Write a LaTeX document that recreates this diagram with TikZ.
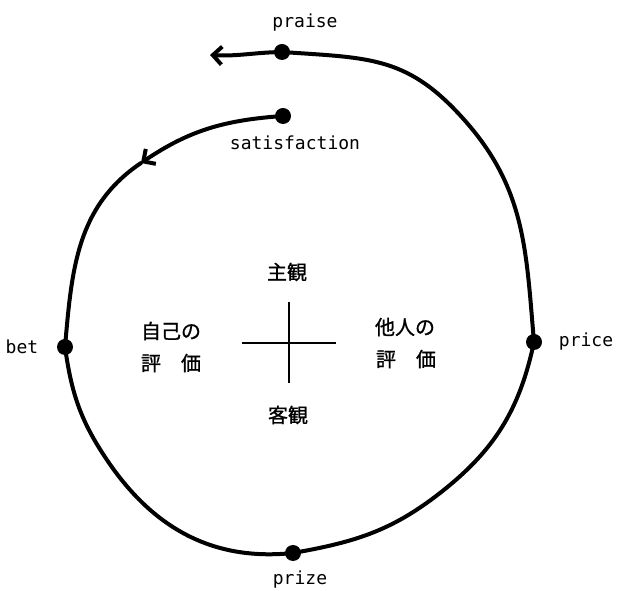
\documentclass[tikz,border=0pt]{standalone}
\usepackage{fontspec}
\setmonofont{DejaVu Sans Mono}
\newfontfamily\cjk[FakeBold=1]{Noto Sans CJK JP}
\usetikzlibrary{arrows.meta}
\begin{document}
\begin{tikzpicture}[x=1pt,y=1pt,
  curve/.style={line width=4pt, line cap=round},
  dotnode/.style={circle, fill=black, inner sep=0pt, minimum size=16pt},
  lab/.style={font=\ttfamily\fontsize{18}{20}\selectfont, inner sep=0pt, anchor=base},
  jp/.style={font=\cjk\fontsize{20}{22}\selectfont, inner sep=0pt},
  barb/.style={-{Straight Barb[length=9pt,width=18pt]}},
  crossline/.style={line width=1.4pt}
]
\useasboundingbox (0,0) rectangle (618,591);
\coordinate (S) at (283,475);
\coordinate (A) at (141,428);
\coordinate (B) at (65,244);
\coordinate (M) at (107,131);
\coordinate (Z) at (293,38);
\coordinate (N) at (440,98);
\coordinate (P) at (534,249);
\coordinate (Q) at (467,468);
\coordinate (R) at (282,539);
\coordinate (E) at (210,536);

\draw[curve, barb] (S) to[out=184,in=34] (A);
\draw[curve] (A) to[out=214,in=85] (B)
  to[out=-82,in=124] (M)
  to[out=-56,in=186] (Z)
  to[out=10,in=218] (N)
  to[out=38,in=258] (P)
  to[out=95,in=-49] (Q)
  to[out=131,in=-4,looseness=1.15] (R);
\draw[curve, barb] (R) to[out=181,in=-3] (E);

\node[dotnode] (dS) at (S) {};
\node[dotnode] (dB) at (B) {};
\node[dotnode] (dZ) at (Z) {};
\node[dotnode] (dP) at (P) {};
\node[dotnode] (dR) at (R) {};

\node[lab] (lR) at (305,563) {praise};
\node[lab] (lS) at (295,441) {satisfaction};
\node[lab] (lB) at (22,237) {bet};
\node[lab] (lP) at (586,244) {price};
\node[lab] (lZ) at (300,6) {prize};

\coordinate (h1) at (242,248);
\coordinate (h2) at (336,248);
\coordinate (v1) at (289,289);
\coordinate (v2) at (289,208);
\draw[crossline] (h1) -- (h2);
\draw[crossline] (v1) -- (v2);

\node[jp] (sub) at (287,319) {主観};
\node[jp] (obj) at (288,176) {客観};
\node[jp] (self1) at (171,260) {自己の};
\node[jp] (self2) at (171,228) {評\hspace{1em}価};
\node[jp] (oth1) at (405,264) {他人の};
\node[jp] (oth2) at (406,232) {評\hspace{1em}価};
\end{tikzpicture}
\end{document}
